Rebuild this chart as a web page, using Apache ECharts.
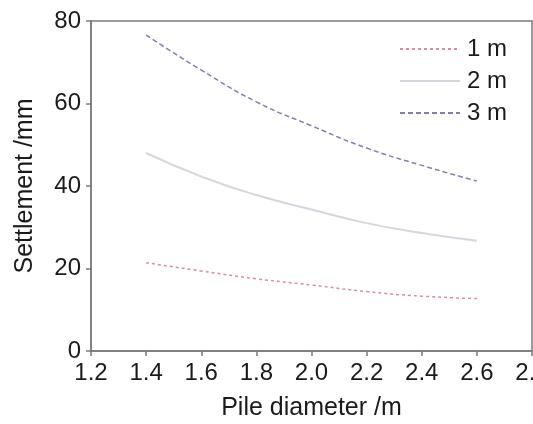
<!DOCTYPE html>
<html>
<head>
<meta charset="utf-8">
<script src="https://cdn.jsdelivr.net/npm/echarts@6/dist/echarts.min.js"></script>
<style>html,body{margin:0;padding:0;background:#fff}#c{width:533px;height:424px}</style>
</head>
<body>
<div id="c"></div>
<script>
const diameters = [1.4, 1.6, 1.8, 2.0, 2.2, 2.4, 2.6];
const s1m = [21.4, 19.4, 17.5, 16.0, 14.4, 13.3, 12.7];
const s2m = [48.0, 42.3, 37.8, 34.3, 31.0, 28.6, 26.7];
const s3m = [76.6, 68.1, 60.4, 54.6, 49.2, 45.0, 41.2];
const seriesNames = ['1 m', '2 m', '3 m'];
const xTicks = [1.2, 1.4, 1.6, 1.8, 2.0, 2.2, 2.4, 2.6, 2.8];
const yTicks = [0, 20, 40, 60, 80];

const pair = arr => diameters.map((d, i) => [d, arr[i]]);
const font = 'Liberation Sans, Arial, sans-serif';
const axisColor = '#7a7a7a';
const textColor = '#1a1a1a';

const chart = echarts.init(document.getElementById('c'), null, {renderer: 'canvas'});
chart.setOption({
  backgroundColor: '#ffffff',
  animation: false,
  grid: {left: 91, right: 1, top: 21, bottom: 73, containLabel: false, outerBoundsMode: 'none',
         show: true, borderColor: axisColor, borderWidth: 1.5, backgroundColor: 'transparent'},
  legend: {
    orient: 'vertical', left: 394, top: 32,
    itemWidth: 60, itemHeight: 14, itemGap: 8,
    itemStyle: {opacity: 0},
    textStyle: {fontFamily: font, fontSize: 24, color: textColor, lineHeight: 24, padding: [0, 0, 0, 2]},
    data: seriesNames
  },
  xAxis: {
    type: 'value', min: xTicks[0], max: xTicks[xTicks.length - 1], interval: 0.2,
    name: 'Pile diameter /m', nameLocation: 'middle', nameGap: 45,
    nameTextStyle: {fontFamily: font, fontSize: 25, color: textColor},
    axisLine: {show: true, lineStyle: {color: axisColor, width: 1.5}},
    axisTick: {show: true, inside: false, length: 5, lineStyle: {color: axisColor, width: 1.5}},
    axisLabel: {fontFamily: font, fontSize: 24, color: textColor, margin: 10, formatter: v => v.toFixed(1)},
    splitLine: {show: false}
  },
  yAxis: {
    type: 'value', min: yTicks[0], max: yTicks[yTicks.length - 1], interval: 20,
    name: 'Settlement /mm', nameLocation: 'middle', nameGap: 53,
    nameTextStyle: {fontFamily: font, fontSize: 25, color: textColor},
    axisLine: {show: true, lineStyle: {color: axisColor, width: 1.5}},
    axisTick: {show: true, inside: false, length: 5, lineStyle: {color: axisColor, width: 1.5}},
    axisLabel: {fontFamily: font, fontSize: 24, color: textColor, margin: 10},
    splitLine: {show: false}
  },
  series: [
    {name: seriesNames[0], type: 'line', data: pair(s1m), smooth: 0.5, showSymbol: false, symbol: 'none',
     lineStyle: {color: '#e08a9a', width: 1.5, type: [3, 3]}, itemStyle: {color: '#e08a9a'}},
    {name: seriesNames[1], type: 'line', data: pair(s2m), smooth: 0.5, showSymbol: false, symbol: 'none',
     lineStyle: {color: '#d6d6de', width: 2, type: 'solid'}, itemStyle: {color: '#d6d6de'}},
    {name: seriesNames[2], type: 'line', data: pair(s3m), smooth: 0.5, showSymbol: false, symbol: 'none',
     lineStyle: {color: '#8080b0', width: 1.5, type: [5, 3]}, itemStyle: {color: '#8080b0'}}
  ]
});
</script>
</body>
</html>
